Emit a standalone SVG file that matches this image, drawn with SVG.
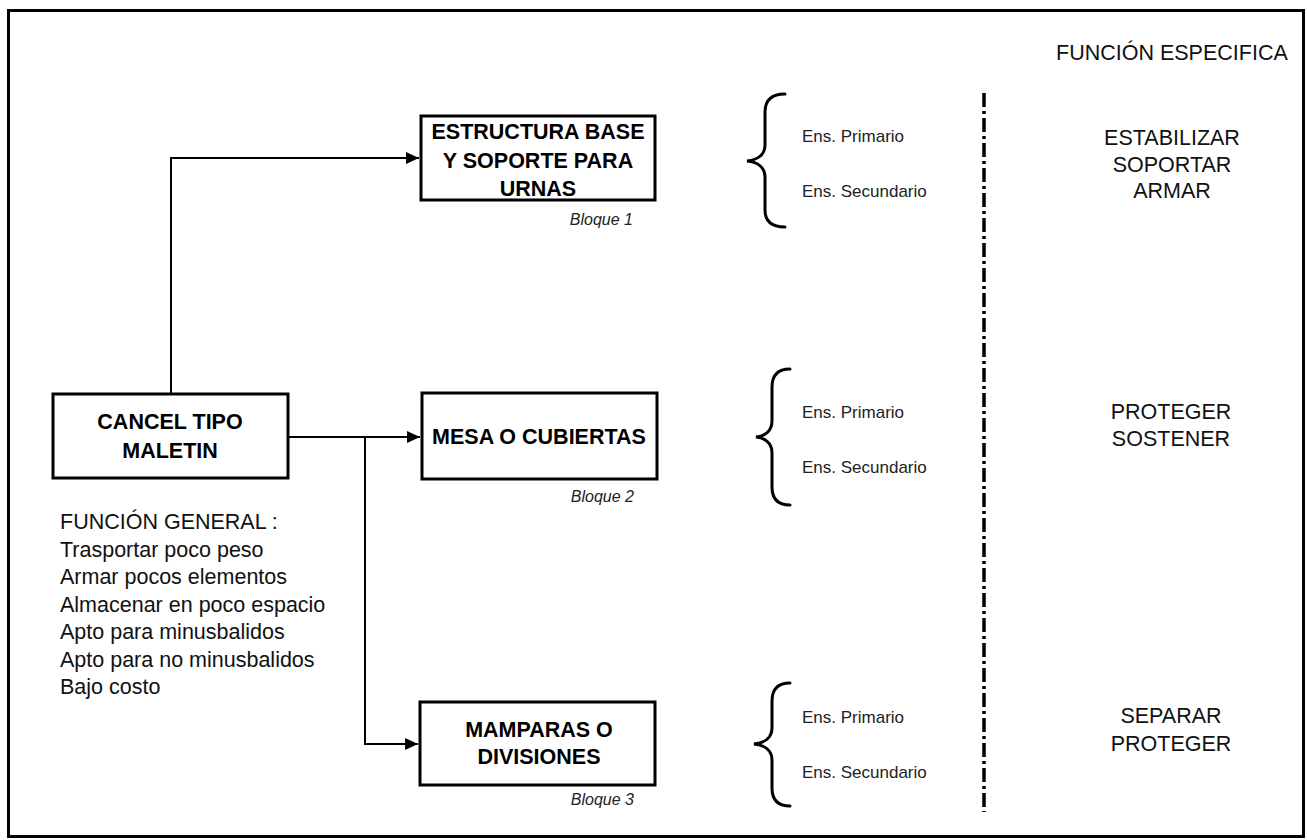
<svg xmlns="http://www.w3.org/2000/svg" width="1307" height="840" viewBox="0 0 1307 840">
  <defs>
    <style>
      .frame { fill: none; stroke: #000; stroke-width: 3; }
      .box { fill: #fff; stroke: #000; stroke-width: 3; }
      .wire { fill: none; stroke: #000; stroke-width: 2; }
      .brace { fill: none; stroke: #000; stroke-width: 3; stroke-linecap: round; }
      .divider { fill: none; stroke: #000; stroke-width: 3.5; stroke-dasharray: 14 4 3 4; }
      .title { font-family: "Liberation Sans", Arial, sans-serif; font-weight: bold; font-size: 21.5px; fill: #000; text-anchor: middle; }
      .label { font-family: "Liberation Sans", Arial, sans-serif; font-size: 21.5px; fill: #111; }
      .mid { text-anchor: middle; }
      .small { font-family: "Liberation Sans", Arial, sans-serif; font-size: 17px; fill: #222; }
      .tag { font-family: "Liberation Sans", Arial, sans-serif; font-style: italic; font-size: 16px; fill: #222; text-anchor: end; }
    </style>
    <marker id="arrow" markerUnits="userSpaceOnUse" markerWidth="14" markerHeight="14" viewBox="0 0 14 14" refX="13" refY="7" orient="auto">
      <path d="M0,1 L13,7 L0,13 Z" fill="#000"/>
    </marker>
  </defs>

  <rect width="1307" height="840" fill="#fff"/>

  <!-- outer frame -->
  <rect class="frame" x="8.5" y="10.5" width="1295" height="826"/>

  <!-- connectors -->
  <g id="connectors">
    <path class="wire" d="M171,394 L171,158 L419,158" marker-end="url(#arrow)"/>
    <path class="wire" d="M288,437 L420,437" marker-end="url(#arrow)"/>
    <path class="wire" d="M365,437 L365,744 L418,744" marker-end="url(#arrow)"/>
  </g>

  <!-- root node -->
  <g id="cancel">
    <rect class="box" x="53" y="394" width="235" height="84"/>
    <text class="title" x="170" y="429">CANCEL TIPO</text>
    <text class="title" x="170" y="458">MALETIN</text>
  </g>

  <g id="funcion-general">
    <text class="label" x="60" y="529">FUNCIÓN GENERAL :</text>
    <text class="label" x="60" y="557">Trasportar poco peso</text>
    <text class="label" x="60" y="584">Armar pocos elementos</text>
    <text class="label" x="60" y="612">Almacenar en poco espacio</text>
    <text class="label" x="60" y="639">Apto para minusbalidos</text>
    <text class="label" x="60" y="667">Apto para no minusbalidos</text>
    <text class="label" x="60" y="694">Bajo costo</text>
  </g>

  <!-- block 1 -->
  <g id="bloque1">
    <rect class="box" x="421" y="116" width="234" height="84"/>
    <text class="title" x="538" y="139">ESTRUCTURA BASE</text>
    <text class="title" x="538" y="168">Y SOPORTE PARA</text>
    <text class="title" x="538" y="196">URNAS</text>
    <text class="tag" x="633" y="225">Bloque 1</text>
  </g>

  <!-- block 2 -->
  <g id="bloque2">
    <rect class="box" x="422" y="393" width="235" height="86"/>
    <text class="title" x="539" y="444">MESA O CUBIERTAS</text>
    <text class="tag" x="634" y="502">Bloque 2</text>
  </g>

  <!-- block 3 -->
  <g id="bloque3">
    <rect class="box" x="420" y="702" width="235" height="83"/>
    <text class="title" x="539" y="737">MAMPARAS O</text>
    <text class="title" x="539" y="764">DIVISIONES</text>
    <text class="tag" x="634" y="805">Bloque 3</text>
  </g>

  <!-- assemblies per block -->
  <g id="ensambles1">
    <path class="brace" d="M785,94 C772,94 765,100 765,112 L765,145 C765,155 757,160 747,161 C757,162 765,167 765,177 L765,210 C765,222 772,227 785,227"/>
    <text class="small" x="802" y="142">Ens. Primario</text>
    <text class="small" x="802" y="197">Ens. Secundario</text>
  </g>
  <g id="ensambles2">
    <path class="brace" d="M790,369 C778,369 772,375 772,387 L772,421 C772,431 765,436 756,437 C765,438 772,443 772,453 L772,487 C772,499 778,505 790,505"/>
    <text class="small" x="802" y="418">Ens. Primario</text>
    <text class="small" x="802" y="473">Ens. Secundario</text>
  </g>
  <g id="ensambles3">
    <path class="brace" d="M790,683 C778,683 772,689 772,701 L772,728 C772,738 764,743 754,744 C764,745 772,750 772,760 L772,788 C772,800 778,806 790,806"/>
    <text class="small" x="802" y="723">Ens. Primario</text>
    <text class="small" x="802" y="778">Ens. Secundario</text>
  </g>

  <!-- separator -->
  <line class="divider" x1="984" y1="93" x2="984" y2="812"/>

  <!-- specific functions -->
  <g id="funcion-especifica">
    <text class="label" x="1056" y="60">FUNCIÓN ESPECIFICA</text>
    <text class="label mid" x="1172" y="145">ESTABILIZAR</text>
    <text class="label mid" x="1172" y="172">SOPORTAR</text>
    <text class="label mid" x="1172" y="198">ARMAR</text>
    <text class="label mid" x="1171" y="419">PROTEGER</text>
    <text class="label mid" x="1171" y="446">SOSTENER</text>
    <text class="label mid" x="1171" y="723">SEPARAR</text>
    <text class="label mid" x="1171" y="751">PROTEGER</text>
  </g>
</svg>
